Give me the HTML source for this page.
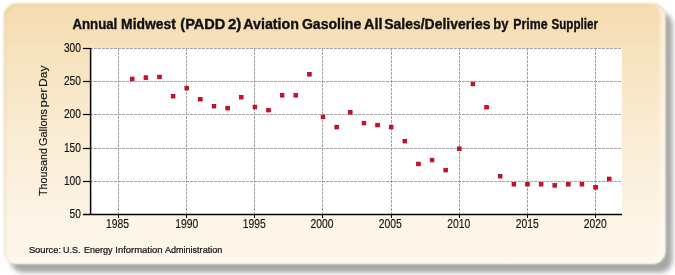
<!DOCTYPE html>
<html><head><meta charset="utf-8">
<style>
html,body{margin:0;padding:0;background:#fff;width:675px;height:275px;overflow:hidden}
svg{display:block}
text{font-family:"Liberation Sans",sans-serif;fill:#111}
svg{will-change:transform}
.g{stroke:#a2a2a2;stroke-width:1;stroke-dasharray:3 1}
.m{fill:#d90f26;stroke:#a8001a;stroke-width:0.8}
.yl{font-size:12.3px;stroke:#111;stroke-width:0.15px}
.xl{font-size:12.8px;stroke:#111;stroke-width:0.15px}
.t{font-size:13.8px;font-weight:bold;stroke:#111;stroke-width:0.35px}
.src{font-size:9.6px;stroke:#111;stroke-width:0.22px}
.yt{font-size:11.3px;stroke:#111;stroke-width:0.15px}
</style></head><body>
<svg width="675" height="275" viewBox="0 0 675 275">
<defs>
<linearGradient id="bg" x1="0" y1="0" x2="0" y2="1">
<stop offset="0" stop-color="#f5dcb0"/>
<stop offset="0.4" stop-color="#f9e9cd"/>
<stop offset="0.8" stop-color="#fdf4e5"/>
<stop offset="1" stop-color="#fef7eb"/>
</linearGradient>
<filter id="sh" x="-5%" y="-5%" width="110%" height="115%">
<feGaussianBlur stdDeviation="2.6"/>
</filter>
<filter id="soft" x="-2%" y="-2%" width="104%" height="104%">
<feGaussianBlur stdDeviation="0.8"/>
</filter>
<filter id="glow" x="-2%" y="-2%" width="104%" height="104%">
<feGaussianBlur stdDeviation="1.5"/>
</filter>
<clipPath id="pc"><rect x="3.3" y="3" width="662.2" height="261" rx="13" ry="13"/></clipPath>
</defs>
<rect x="10.5" y="12" width="662" height="260.5" rx="13" ry="13" fill="#a6a6a6" filter="url(#sh)"/>
<rect x="3.3" y="3" width="662.2" height="261" rx="13" ry="13" fill="url(#bg)" filter="url(#soft)"/>
<g clip-path="url(#pc)"><rect x="1.3" y="1" width="662.2" height="261" rx="13" ry="13" fill="none" stroke="#fffbf4" stroke-opacity="0.65" stroke-width="6" filter="url(#glow)"/>
<rect x="5" y="4.6" width="662.2" height="261" rx="13" ry="13" fill="none" stroke="#c8b48a" stroke-opacity="0.35" stroke-width="1.6" filter="url(#soft)"/></g>
<rect x="90" y="48" width="532" height="166" fill="#ffffff"/>
<line x1="90" y1="48.5" x2="622" y2="48.5" class="g"/>
<line x1="90" y1="81.5" x2="622" y2="81.5" class="g"/>
<line x1="90" y1="114.5" x2="622" y2="114.5" class="g"/>
<line x1="90" y1="148.5" x2="622" y2="148.5" class="g"/>
<line x1="90" y1="181.5" x2="622" y2="181.5" class="g"/>
<line x1="118.5" y1="48" x2="118.5" y2="214" class="g"/>
<line x1="186.5" y1="48" x2="186.5" y2="214" class="g"/>
<line x1="254.5" y1="48" x2="254.5" y2="214" class="g"/>
<line x1="322.5" y1="48" x2="322.5" y2="214" class="g"/>
<line x1="391.5" y1="48" x2="391.5" y2="214" class="g"/>
<line x1="459.5" y1="48" x2="459.5" y2="214" class="g"/>
<line x1="527.5" y1="48" x2="527.5" y2="214" class="g"/>
<line x1="595.5" y1="48" x2="595.5" y2="214" class="g"/>
<line x1="90.6" y1="48" x2="90.6" y2="215" stroke="#000" stroke-width="1.5"/>
<line x1="83" y1="214.5" x2="622" y2="214.5" stroke="#000" stroke-width="1.5"/>
<line x1="83" y1="48.5" x2="90" y2="48.5" stroke="#000" stroke-width="1.2"/>
<line x1="83" y1="81.5" x2="90" y2="81.5" stroke="#000" stroke-width="1.2"/>
<line x1="83" y1="114.5" x2="90" y2="114.5" stroke="#000" stroke-width="1.2"/>
<line x1="83" y1="148.5" x2="90" y2="148.5" stroke="#000" stroke-width="1.2"/>
<line x1="83" y1="181.5" x2="90" y2="181.5" stroke="#000" stroke-width="1.2"/>
<text x="63.900000000000006" y="52.0" class="yl" textLength="17" lengthAdjust="spacingAndGlyphs">300</text>
<text x="63.900000000000006" y="85.0" class="yl" textLength="17" lengthAdjust="spacingAndGlyphs">250</text>
<text x="63.900000000000006" y="118.0" class="yl" textLength="17" lengthAdjust="spacingAndGlyphs">200</text>
<text x="63.900000000000006" y="152.0" class="yl" textLength="17" lengthAdjust="spacingAndGlyphs">150</text>
<text x="63.900000000000006" y="185.0" class="yl" textLength="17" lengthAdjust="spacingAndGlyphs">100</text>
<text x="69.60000000000001" y="218.0" class="yl" textLength="11.3" lengthAdjust="spacingAndGlyphs">50</text>
<line x1="118.5" y1="214" x2="118.5" y2="218" stroke="#000" stroke-width="1"/>
<text x="105.90" y="227.8" class="xl" textLength="23" lengthAdjust="spacingAndGlyphs">1985</text>
<line x1="186.5" y1="214" x2="186.5" y2="218" stroke="#000" stroke-width="1"/>
<text x="175.20" y="227.8" class="xl" textLength="23" lengthAdjust="spacingAndGlyphs">1990</text>
<line x1="254.5" y1="214" x2="254.5" y2="218" stroke="#000" stroke-width="1"/>
<text x="242.80" y="227.8" class="xl" textLength="23" lengthAdjust="spacingAndGlyphs">1995</text>
<line x1="322.5" y1="214" x2="322.5" y2="218" stroke="#000" stroke-width="1"/>
<text x="310.60" y="227.8" class="xl" textLength="23" lengthAdjust="spacingAndGlyphs">2000</text>
<line x1="391.5" y1="214" x2="391.5" y2="218" stroke="#000" stroke-width="1"/>
<text x="378.80" y="227.8" class="xl" textLength="23" lengthAdjust="spacingAndGlyphs">2005</text>
<line x1="459.5" y1="214" x2="459.5" y2="218" stroke="#000" stroke-width="1"/>
<text x="447.20" y="227.8" class="xl" textLength="23" lengthAdjust="spacingAndGlyphs">2010</text>
<line x1="527.5" y1="214" x2="527.5" y2="218" stroke="#000" stroke-width="1"/>
<text x="515.80" y="227.8" class="xl" textLength="23" lengthAdjust="spacingAndGlyphs">2015</text>
<line x1="595.5" y1="214" x2="595.5" y2="218" stroke="#000" stroke-width="1"/>
<text x="583.80" y="227.8" class="xl" textLength="23" lengthAdjust="spacingAndGlyphs">2020</text>
<rect x="130.43" y="77.14" width="3.6" height="3.6" class="m"/>
<rect x="144.06" y="75.82" width="3.6" height="3.6" class="m"/>
<rect x="157.69" y="75.15" width="3.6" height="3.6" class="m"/>
<rect x="171.31" y="94.41" width="3.6" height="3.6" class="m"/>
<rect x="184.94" y="86.44" width="3.6" height="3.6" class="m"/>
<rect x="198.57" y="97.40" width="3.6" height="3.6" class="m"/>
<rect x="212.20" y="104.37" width="3.6" height="3.6" class="m"/>
<rect x="225.83" y="106.36" width="3.6" height="3.6" class="m"/>
<rect x="239.46" y="95.40" width="3.6" height="3.6" class="m"/>
<rect x="253.09" y="105.23" width="3.6" height="3.6" class="m"/>
<rect x="266.71" y="108.35" width="3.6" height="3.6" class="m"/>
<rect x="280.34" y="93.48" width="3.6" height="3.6" class="m"/>
<rect x="293.97" y="93.48" width="3.6" height="3.6" class="m"/>
<rect x="307.60" y="72.50" width="3.6" height="3.6" class="m"/>
<rect x="321.23" y="115.19" width="3.6" height="3.6" class="m"/>
<rect x="334.86" y="125.35" width="3.6" height="3.6" class="m"/>
<rect x="348.49" y="110.48" width="3.6" height="3.6" class="m"/>
<rect x="362.11" y="121.30" width="3.6" height="3.6" class="m"/>
<rect x="375.74" y="123.29" width="3.6" height="3.6" class="m"/>
<rect x="389.37" y="125.28" width="3.6" height="3.6" class="m"/>
<rect x="403.00" y="139.36" width="3.6" height="3.6" class="m"/>
<rect x="416.63" y="162.14" width="3.6" height="3.6" class="m"/>
<rect x="430.26" y="158.28" width="3.6" height="3.6" class="m"/>
<rect x="443.89" y="168.31" width="3.6" height="3.6" class="m"/>
<rect x="457.51" y="147.00" width="3.6" height="3.6" class="m"/>
<rect x="471.14" y="82.26" width="3.6" height="3.6" class="m"/>
<rect x="484.77" y="105.43" width="3.6" height="3.6" class="m"/>
<rect x="498.40" y="174.42" width="3.6" height="3.6" class="m"/>
<rect x="512.03" y="182.45" width="3.6" height="3.6" class="m"/>
<rect x="525.66" y="182.45" width="3.6" height="3.6" class="m"/>
<rect x="539.29" y="182.45" width="3.6" height="3.6" class="m"/>
<rect x="552.91" y="183.58" width="3.6" height="3.6" class="m"/>
<rect x="566.54" y="182.45" width="3.6" height="3.6" class="m"/>
<rect x="580.17" y="182.45" width="3.6" height="3.6" class="m"/>
<rect x="593.80" y="185.51" width="3.6" height="3.6" class="m"/>
<rect x="607.43" y="177.08" width="3.6" height="3.6" class="m"/>
<text x="72.50" y="29.0" class="t" textLength="44.80" lengthAdjust="spacingAndGlyphs">Annual</text>
<text x="121.10" y="29.0" class="t" textLength="54.80" lengthAdjust="spacingAndGlyphs">Midwest</text>
<text x="180.30" y="29.0" class="t" textLength="45.00" lengthAdjust="spacingAndGlyphs">(PADD</text>
<text x="227.90" y="29.0" class="t" textLength="13.40" lengthAdjust="spacingAndGlyphs">2)</text>
<text x="243.30" y="29.0" class="t" textLength="55.60" lengthAdjust="spacingAndGlyphs">Aviation</text>
<text x="301.90" y="29.0" class="t" textLength="59.40" lengthAdjust="spacingAndGlyphs">Gasoline</text>
<text x="364.10" y="29.0" class="t" textLength="18.40" lengthAdjust="spacingAndGlyphs">All</text>
<text x="384.30" y="29.0" class="t" textLength="106.20" lengthAdjust="spacingAndGlyphs">Sales/Deliveries</text>
<text x="493.30" y="29.0" class="t" textLength="15.20" lengthAdjust="spacingAndGlyphs">by</text>
<text x="513.30" y="29.0" class="t" textLength="34.20" lengthAdjust="spacingAndGlyphs">Prime</text>
<text x="551.50" y="29.0" class="t" textLength="46.40" lengthAdjust="spacingAndGlyphs">Supplier</text>
<text x="28.90" y="253.2" class="src" textLength="32.20" lengthAdjust="spacingAndGlyphs">Source:</text>
<text x="63.10" y="253.2" class="src" textLength="17.40" lengthAdjust="spacingAndGlyphs">U.S.</text>
<text x="83.90" y="253.2" class="src" textLength="28.60" lengthAdjust="spacingAndGlyphs">Energy</text>
<text x="115.30" y="253.2" class="src" textLength="47.20" lengthAdjust="spacingAndGlyphs">Information</text>
<text x="164.90" y="253.2" class="src" textLength="57.40" lengthAdjust="spacingAndGlyphs">Administration</text>
<g transform="translate(47.3,295.5) rotate(-90)">
<text x="99.50" y="0" class="yt" textLength="48.00" lengthAdjust="spacingAndGlyphs">Thousand</text>
<text x="149.50" y="0" class="yt" textLength="37.00" lengthAdjust="spacingAndGlyphs">Gallons</text>
<text x="188.10" y="0" class="yt" textLength="19.20" lengthAdjust="spacingAndGlyphs">per</text>
<text x="208.50" y="0" class="yt" textLength="21.40" lengthAdjust="spacingAndGlyphs">Day</text>
</g>
</svg>
</body></html>
